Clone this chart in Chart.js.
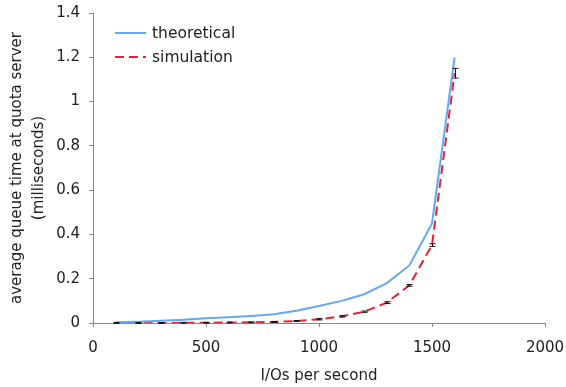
<!DOCTYPE html>
<html>
<head>
<meta charset="utf-8">
<script src="https://cdn.jsdelivr.net/npm/chart.js@4"></script>
<style>
  html, body { margin: 0; padding: 0; background: #fff; }
  #wrap { position: relative; width: 566px; height: 387px; }
  #legend { position: absolute; left: 115px; top: 21px; font-family: "DejaVu Sans", Verdana, sans-serif; font-size: 15.5px; color: #222; }
  #legend div { height: 24px; display: flex; align-items: center; }
  #legend svg { margin-right: 6px; }
</style>
</head>
<body>
<div id="wrap">
  <canvas id="chart" width="566" height="387"></canvas>
  <div id="legend">
    <div><svg width="31" height="4"><line x1="0" y1="2" x2="31" y2="2" stroke="#62a8f7" stroke-width="2"/></svg>theoretical</div>
    <div><svg width="31" height="4"><line x1="0" y1="2" x2="31" y2="2" stroke="#e2252f" stroke-width="2" stroke-dasharray="9,5"/></svg>simulation</div>
  </div>
</div>
<script>
// I/O rates (x axis)
const ioRates = [100, 200, 300, 400, 500, 600, 700, 800, 900, 1000, 1100, 1200, 1300, 1400, 1500, 1600];
// queue times in milliseconds
const theoretical = [0.003, 0.006, 0.010, 0.015, 0.021, 0.026, 0.032, 0.040, 0.055, 0.077, 0.100, 0.130, 0.180, 0.260, 0.450, 1.200];
const simulation = [0.000, 0.000, 0.000, 0.001, 0.001, 0.002, 0.003, 0.005, 0.009, 0.017, 0.030, 0.051, 0.092, 0.170, 0.352, 1.128];
const simError = [0.002, 0.002, 0.002, 0.002, 0.002, 0.002, 0.002, 0.002, 0.002, 0.003, 0.003, 0.003, 0.004, 0.004, 0.006, 0.022];
const xTicks = [0, 500, 1000, 1500, 2000];
const yTicks = [0, 0.2, 0.4, 0.6, 0.8, 1, 1.2, 1.4];

const font = { family: '"DejaVu Sans", Verdana, sans-serif', size: 15 };

// draw the error bars of the simulation series
const errorBars = {
    id: 'errorBars',
    afterDatasetsDraw(chart) {
        const ctx = chart.ctx;
        const xs = chart.scales.x, ys = chart.scales.y;
        ctx.save();
        ctx.strokeStyle = '#111';
        ctx.lineWidth = 1;
        ioRates.forEach((x, i) => {
            const px = Math.round(xs.getPixelForValue(x)) + 0.5;
            const top = ys.getPixelForValue(simulation[i] + simError[i]);
            const bot = ys.getPixelForValue(simulation[i] - simError[i]);
            ctx.beginPath();
            ctx.moveTo(px, top); ctx.lineTo(px, bot);
            ctx.moveTo(px - 3, top); ctx.lineTo(px + 3, top);
            ctx.moveTo(px - 3, bot); ctx.lineTo(px + 3, bot);
            ctx.stroke();
        });
        ctx.restore();
    }
};

new Chart(document.getElementById('chart'), {
    type: 'line',
    data: {
        datasets: [
            {
                label: 'theoretical',
                data: ioRates.map((x, i) => ({ x: x, y: theoretical[i] })),
                borderColor: '#62a8f7',
                borderWidth: 2,
                pointRadius: 0,
                tension: 0
            },
            {
                label: 'simulation',
                data: ioRates.map((x, i) => ({ x: x, y: simulation[i] })),
                borderColor: '#e2252f',
                borderWidth: 2,
                borderDash: [9, 5],
                pointRadius: 0,
                tension: 0
            }
        ]
    },
    options: {
        responsive: false,
        animation: false,
        layout: { padding: { top: 13, right: 21, left: 0, bottom: 0 } },
        plugins: { legend: { display: false }, tooltip: { enabled: false } },
        scales: {
            x: {
                type: 'linear',
                min: 0, max: 2000,
                afterBuildTicks: (axis) => { axis.ticks = xTicks.map(v => ({ value: v })); },
                afterFit: (axis) => { axis.height = 64; axis.paddingLeft = 0; axis.paddingRight = 0; },
                grid: { drawOnChartArea: false, tickLength: 4, color: '#888' },
                border: { color: '#888' },
                ticks: { color: '#222', font: font, padding: 12, maxRotation: 0, callback: (v) => String(v) },
                title: { display: true, text: 'I/Os per second', color: '#222', font: font, padding: { top: 4, bottom: 2 } }
            },
            y: {
                min: 0, max: 1.4,
                afterBuildTicks: (axis) => { axis.ticks = yTicks.map(v => ({ value: v })); },
                afterFit: (axis) => { axis.width = 93; axis.paddingTop = 0; axis.paddingBottom = 0; },
                grid: { drawOnChartArea: false, tickLength: 4, color: '#888' },
                border: { color: '#888' },
                ticks: { color: '#222', font: font, padding: 9, callback: (v) => String(v) },
                title: {
                    display: true,
                    text: ['average queue time at quota server', '(milliseconds)'],
                    color: '#222',
                    font: { family: font.family, size: 15, lineHeight: 1.47 },
                    padding: { top: 6, bottom: 4 }
                }
            }
        }
    },
    plugins: [errorBars]
});
</script>
</body>
</html>
